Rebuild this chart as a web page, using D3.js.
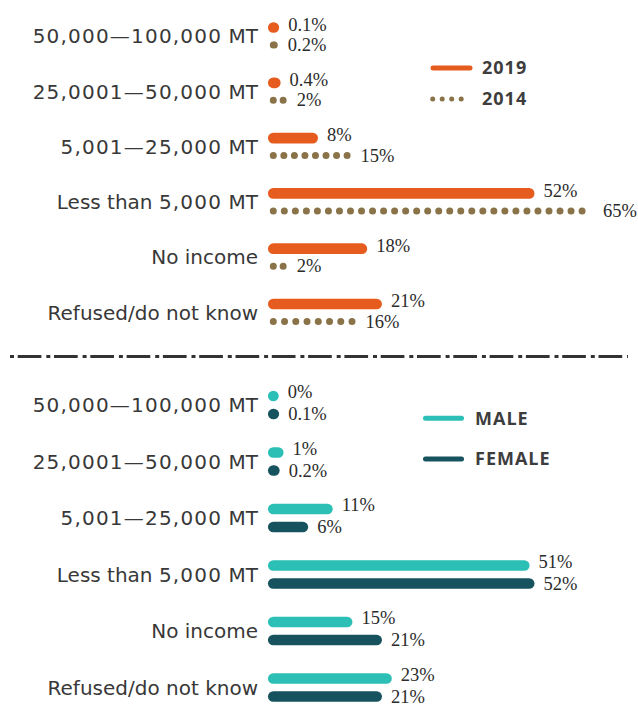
<!DOCTYPE html>
<html lang="en">
<head>
<meta charset="utf-8">
<title>Income bands</title>
<script src="https://cdn.jsdelivr.net/npm/d3@7"></script>
<style>
  body { margin: 0; background: #fff; }
  .cat { font-family: "DejaVu Sans", sans-serif; font-size: 20px; fill: #383838; }
  .cat .num { letter-spacing: 1.2px; }
  .val { font-family: "Liberation Serif", serif; font-size: 18.5px; fill: #2b2b2b; }
  .leg { font-family: "Open Sans", sans-serif; font-size: 18px; font-weight: bold; fill: #3d3d3d; letter-spacing: 1px; }
</style>
</head>
<body>
<script>
var w = 638, h = 706;

var categories = ["50,000\u2014100,000 MT", "25,0001\u201450,000 MT", "5,001\u201425,000 MT",
                  "Less than 5,000 MT", "No income", "Refused/do not know"];
var v2019 = [0.1, 0.4, 8, 52, 18, 21];
var v2014 = [0.2, 2, 15, 65, 2, 16];
var male = [0, 1, 11, 51, 15, 23];
var female = [0.1, 0.2, 6, 52, 21, 21];

var orange = "#e65c1e", brown = "#8b7349", teal = "#2bbfb6", dark = "#16535f";

var svg = d3.select("body").append("svg").attr("width", w).attr("height", h);

// shared horizontal scale (line centres; round caps add half thickness on each side)
var x = d3.scaleLinear().domain([0, 65]).range([273.3, 273.3 + 4.92 * 65]);
var yTop = d3.scalePoint().domain(categories).range([36, 312.5]);
var yBot = d3.scalePoint().domain(categories).range([405, 687.5]);

// value labels; pulled left a little if they would run off the right edge
function valLabels(g, d, y, off, labOff, gap) {
    g.selectAll(null).data(d).enter().append("text").attr("class", "val")
        .attr("y", function(d) { return y(d.c) + off + labOff; })
        .attr("dy", "0.33em")
        .text(function(d) { return d.v + "%"; })
        .each(function(d) {
            var tw = this.getComputedTextLength();
            d3.select(this).attr("x", Math.min(x(d.v) + gap, w - tw - 1));
        });
}

function solidSeries(g, vals, y, off, color, thick, labOff) {
    var d = categories.map(function(c, i) { return {c: c, v: vals[i]}; });
    g.selectAll(null).data(d).enter().append("line")
        .attr("x1", x(0)).attr("x2", function(d) { return Math.max(x(d.v), x(0) + 0.1); })
        .attr("y1", function(d) { return y(d.c) + off; })
        .attr("y2", function(d) { return y(d.c) + off; })
        .attr("stroke", color).attr("stroke-width", thick).attr("stroke-linecap", "round");
    valLabels(g, d, y, off, labOff, thick / 2 + 9);
}

function dottedSeries(g, vals, y, off, color, thick, labOff) {
    var d = categories.map(function(c, i) { return {c: c, v: vals[i]}; });
    g.selectAll(null).data(d).enter().append("line")
        .attr("x1", x(0)).attr("x2", function(d) { return Math.max(x(d.v), x(0) + 0.1); })
        .attr("y1", function(d) { return y(d.c) + off; })
        .attr("y2", function(d) { return y(d.c) + off; })
        .attr("stroke", color).attr("stroke-width", thick).attr("stroke-linecap", "round")
        .attr("stroke-dasharray", function(d) {
            var L = x(d.v) - x(0);
            var n = Math.max(1, Math.round(L / 11));
            return "0," + Math.max(L / n, 0.05);
        });
    valLabels(g, d, y, off, labOff, thick / 2 + 10);
}

// category labels, number runs set a bit wider like the original type
function catLabels(g, y) {
    g.selectAll(null).data(categories).enter().append("text").attr("class", "cat")
        .attr("x", 258).attr("y", function(d) { return y(d); })
        .attr("dy", "0.36em").attr("text-anchor", "end")
        .each(function(d) {
            var t = d3.select(this);
            d.split(/([0-9,\u2014]+)/).filter(function(s) { return s.length; }).forEach(function(s) {
                t.append("tspan").attr("class", /[0-9]/.test(s) ? "num" : null).text(s);
            });
        });
}

// top panel: 2019 vs 2014
var gTop = svg.append("g");
catLabels(gTop, yTop);
solidSeries(gTop, v2019, yTop, -8.5, orange, 10.7, -3);
dottedSeries(gTop, v2014, yTop, 9, brown, 7, 0);

// top legend
gTop.append("line").attr("x1", 433).attr("x2", 470).attr("y1", 68).attr("y2", 68)
    .attr("stroke", orange).attr("stroke-width", 5).attr("stroke-linecap", "round");
gTop.append("line").attr("x1", 432.7).attr("x2", 470.7).attr("y1", 99).attr("y2", 99)
    .attr("stroke", brown).attr("stroke-width", 5).attr("stroke-linecap", "round")
    .attr("stroke-dasharray", "0,9.5");
gTop.append("text").attr("class", "leg").attr("x", 482).attr("y", 68).attr("dy", "0.36em").text("2019");
gTop.append("text").attr("class", "leg").attr("x", 482).attr("y", 99).attr("dy", "0.36em").text("2014");

// separator, dot-dash
svg.append("line").attr("x1", 10).attr("x2", 628).attr("y1", 356.5).attr("y2", 356.5)
    .attr("stroke", "#333").attr("stroke-width", 3)
    .attr("stroke-dasharray", "4,3.7,23.7,4.9");

// bottom panel: male vs female
var gBot = svg.append("g");
catLabels(gBot, yBot);
solidSeries(gBot, male, yBot, -9, teal, 10.7, -4);
solidSeries(gBot, female, yBot, 9, dark, 10.7, 0);

gBot.append("line").attr("x1", 425.5).attr("x2", 461.5).attr("y1", 418.3).attr("y2", 418.3)
    .attr("stroke", teal).attr("stroke-width", 5).attr("stroke-linecap", "round");
gBot.append("line").attr("x1", 425.5).attr("x2", 461.5).attr("y1", 459).attr("y2", 459)
    .attr("stroke", dark).attr("stroke-width", 5).attr("stroke-linecap", "round");
gBot.append("text").attr("class", "leg").attr("x", 475).attr("y", 418.3).attr("dy", "0.36em").text("MALE");
gBot.append("text").attr("class", "leg").attr("x", 475).attr("y", 459).attr("dy", "0.36em").text("FEMALE");
</script>
</body>
</html>
